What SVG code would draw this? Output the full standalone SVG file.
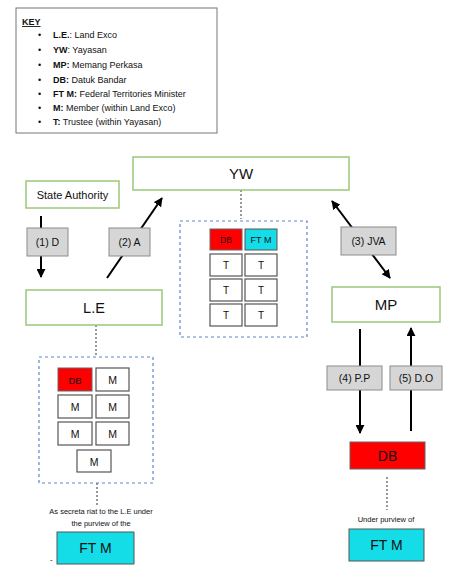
<svg xmlns="http://www.w3.org/2000/svg" width="460" height="576" viewBox="0 0 460 576">
<defs>
<marker id="ah" viewBox="0 0 10 10" refX="9" refY="5" markerWidth="9" markerHeight="9" markerUnits="userSpaceOnUse" orient="auto-start-reverse">
<path d="M0,0 L10,5 L0,10 z" fill="#000"/>
</marker>
<style>
text{font-family:"Liberation Sans",Arial,sans-serif;fill:#111}
.node{fill:#fff;stroke:#9bc87a;stroke-width:1.5}
.lbl{fill:#d6d6d6;stroke:#8c8c8c;stroke-width:1}
.cell{fill:#fff;stroke:#555;stroke-width:1.2}
.red{fill:#ff0000;stroke:#666;stroke-width:1}
.cyan{fill:#14dde8;stroke:#555;stroke-width:1}
.grp{fill:none;stroke:#5b86d0;stroke-width:1.2;stroke-dasharray:3,3}
.dot{stroke:#333;stroke-width:1;stroke-dasharray:2,2;fill:none}
.arr{stroke:#000;stroke-width:2;fill:none}
.c{text-anchor:middle}
</style>
</defs>
<rect width="460" height="576" fill="#fff"/>

<g id="key">
<rect x="16" y="8" width="201" height="125" fill="#fff" stroke="#777" stroke-width="1"/>
<text x="22" y="25" font-size="9" font-weight="bold" text-decoration="underline">KEY</text>
<g font-size="9">
<text x="38" y="38">•</text><text x="53" y="38"><tspan font-weight="bold">L.E.</tspan>: Land Exco</text>
<text x="38" y="53">•</text><text x="53" y="53"><tspan font-weight="bold">YW</tspan>: Yayasan</text>
<text x="38" y="68">•</text><text x="53" y="68"><tspan font-weight="bold">MP:</tspan> Memang Perkasa</text>
<text x="38" y="83">•</text><text x="53" y="83"><tspan font-weight="bold">DB:</tspan> Datuk Bandar</text>
<text x="38" y="97">•</text><text x="53" y="97"><tspan font-weight="bold">FT M:</tspan> Federal Territories Minister</text>
<text x="38" y="111">•</text><text x="53" y="111"><tspan font-weight="bold">M:</tspan> Member (within Land Exco)</text>
<text x="38" y="125">•</text><text x="53" y="125"><tspan font-weight="bold">T:</tspan> Trustee (within Yayasan)</text>
</g>
</g>

<g id="connectors">
<line class="arr" x1="41" y1="216" x2="41" y2="277" marker-end="url(#ah)"/>
<line class="arr" x1="107" y1="278" x2="162" y2="198" marker-end="url(#ah)"/>
<line class="arr" x1="332" y1="201" x2="390" y2="278" marker-start="url(#ah)" marker-end="url(#ah)"/>
<line class="arr" x1="360" y1="329" x2="360" y2="433" marker-end="url(#ah)"/>
<line class="arr" x1="411" y1="431" x2="411" y2="328" marker-end="url(#ah)"/>
<line class="dot" x1="241" y1="190" x2="241" y2="219"/>
<line class="dot" x1="96" y1="325" x2="96" y2="356"/>
<line class="dot" x1="97" y1="483" x2="97" y2="507"/>
<line class="dot" x1="387" y1="477" x2="387" y2="510"/>
<g font-size="10.5">
<rect class="lbl" x="27" y="228" width="41" height="28"/><text class="c" x="47.5" y="246">(1) D</text>
<rect class="lbl" x="109" y="228" width="41" height="28"/><text class="c" x="129.5" y="246">(2) A</text>
<rect class="lbl" x="341" y="227" width="55" height="28"/><text class="c" x="368.5" y="245">(3) JVA</text>
<rect class="lbl" x="327" y="366" width="55" height="24"/><text class="c" x="354.5" y="382">(4) P.P</text>
<rect class="lbl" x="390" y="366" width="52" height="24"/><text class="c" x="416" y="382">(5) D.O</text>
</g>
</g>

<g id="state-authority">
<rect class="node" x="26" y="181" width="93" height="27"/>
<text class="c" x="72.5" y="198.5" font-size="11">State Authority</text>
</g>

<g id="yw">
<rect class="node" x="133" y="157" width="216" height="33"/>
<text class="c" x="241" y="179" font-size="15">YW</text>
</g>

<g id="le">
<rect class="node" x="26" y="290" width="136" height="35"/>
<text class="c" x="94" y="312.5" font-size="14.5">L.E</text>
</g>

<g id="mp">
<rect class="node" x="332" y="287" width="108" height="35"/>
<text class="c" x="386" y="310" font-size="15">MP</text>
</g>

<g id="yw-trustees">
<rect class="grp" x="180" y="221" width="127" height="116"/>
<rect class="red" x="210" y="229" width="32" height="21"/><text class="c" x="226" y="243" font-size="8.5">DB</text>
<rect class="cyan" x="245" y="229" width="32" height="21"/><text class="c" x="261" y="243" font-size="9">FT M</text>
<rect class="cell" x="210" y="254" width="32" height="22"/><text class="c" x="226" y="269" font-size="10">T</text>
<rect class="cell" x="245" y="254" width="32" height="22"/><text class="c" x="261" y="269" font-size="10">T</text>
<rect class="cell" x="210" y="279" width="32" height="22"/><text class="c" x="226" y="294" font-size="10">T</text>
<rect class="cell" x="245" y="279" width="32" height="22"/><text class="c" x="261" y="294" font-size="10">T</text>
<rect class="cell" x="210" y="304" width="32" height="22"/><text class="c" x="226" y="319" font-size="10">T</text>
<rect class="cell" x="245" y="304" width="32" height="22"/><text class="c" x="261" y="319" font-size="10">T</text>
</g>

<g id="le-members">
<rect class="grp" x="39" y="357" width="114" height="126"/>
<rect class="red" x="58" y="368" width="34" height="23"/><text class="c" x="75" y="383.5" font-size="9.5">DB</text>
<rect class="cell" x="96" y="368" width="33" height="23"/><text class="c" x="112.5" y="384" font-size="10.5">M</text>
<rect class="cell" x="58" y="395" width="34" height="23"/><text class="c" x="75" y="411" font-size="10.5">M</text>
<rect class="cell" x="96" y="395" width="33" height="23"/><text class="c" x="112.5" y="411" font-size="10.5">M</text>
<rect class="cell" x="58" y="422" width="34" height="23"/><text class="c" x="75" y="438" font-size="10.5">M</text>
<rect class="cell" x="96" y="422" width="33" height="23"/><text class="c" x="112.5" y="438" font-size="10.5">M</text>
<rect class="cell" x="77" y="450" width="34" height="22"/><text class="c" x="94" y="465.5" font-size="10.5">M</text>
</g>

<g id="ftm-left">
<text class="c" x="101" y="514" font-size="7.5">As secreta riat to the L.E under</text>
<text class="c" x="101" y="526" font-size="7.5">the purview of the</text>
<rect class="cyan" x="57" y="532" width="77" height="32"/>
<text class="c" x="95.5" y="553" font-size="14">FT M</text>
<text x="50" y="562" font-size="8">-</text>
</g>

<g id="db-right">
<rect class="red" x="350" y="442" width="75" height="27"/>
<text class="c" x="387.5" y="460.5" font-size="14">DB</text>
</g>

<g id="ftm-right">
<text class="c" x="386" y="522" font-size="7.5">Under purview of</text>
<rect class="cyan" x="349" y="529" width="75" height="32"/>
<text class="c" x="386.5" y="550" font-size="14">FT M</text>
</g>
</svg>
